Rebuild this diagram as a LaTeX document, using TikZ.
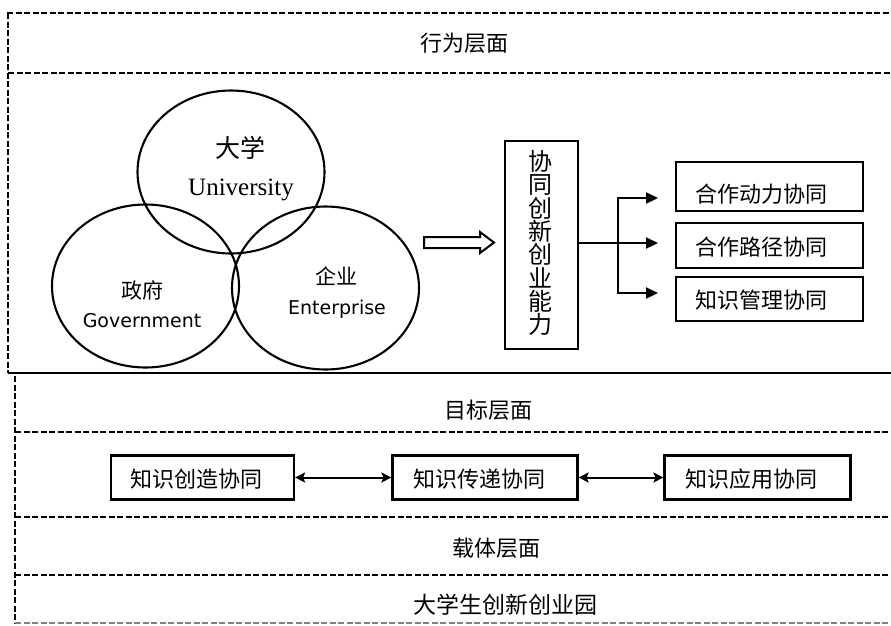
\documentclass[tikz,border=0pt]{standalone}
\usepackage{fontspec}
\setmainfont{Liberation Serif}
\newfontfamily\cjk{Noto Sans CJK SC}
\newfontfamily\latsans{DejaVu Sans}
\usetikzlibrary{arrows.meta,shapes.geometric}
\begin{document}
\begin{tikzpicture}[x=1pt,y=-1pt,
  dsh/.style={line width=1.9pt, dash pattern=on 6pt off 2.5pt},
  txt/.style={inner sep=0pt, font=\cjk\fontsize{22}{24}\selectfont},
  stxt/.style={inner sep=0pt, font=\cjk\fontsize{21}{24}\selectfont},
  ltxt/.style={inner sep=0pt, font=\latsans\fontsize{19}{22}\selectfont},
  boxr/.style={draw, line width=2.2pt, inner sep=0pt},
  ring/.style={draw, ellipse, line width=2.1pt, inner sep=0pt, minimum width=187pt, minimum height=163pt},
  brarrow/.style={line width=2.2pt, -{Triangle[length=12pt,width=11pt]}},
  dblarrow/.style={line width=2pt, {Stealth[length=10pt,width=10pt,inset=2pt]}-{Stealth[length=10pt,width=10pt,inset=2pt]}}
]
\useasboundingbox (0,0) rectangle (891,625);

% layer frames
\draw[dsh] (7,13) -- (891,13);
\draw[dsh] (8,13) -- (8,373);
\draw[dsh] (8,73) -- (891,73);
\draw[line width=2.2pt] (8,373) -- (891,373);
\draw[dsh] (15,376) -- (15,623);
\draw[dsh] (15,432) -- (891,432);
\draw[dsh] (15,517) -- (891,517);
\draw[dsh] (15,575) -- (891,575);
\draw[line width=1.2pt, gray, dash pattern=on 6pt off 2.5pt] (15,623) -- (891,623);

% layer labels
\node[txt] (l1) at (464,43) {行为层面};
\node[txt] (l2) at (488,410) {目标层面};
\node[txt] (l3) at (496,548) {载体层面};
\node[txt, font=\cjk\fontsize{23}{24}\selectfont] (l4) at (505,605) {大学生创新创业园};

% Venn circles
\node[ring] (cu) at (231,172) {};
\node[ring] (cg) at (145.5,286) {};
\node[ring] (ce) at (325.5,288) {};
\node[inner sep=0pt, font=\cjk\fontsize{25}{26}\selectfont] (tu1) at (240,147.5) {大学};
\node[inner sep=0pt, anchor=base, font=\fontsize{25}{26}\selectfont] (tu2) at (241,195) {University};
\node[stxt] (tg1) at (142,290) {政府};
\node[ltxt, anchor=base] (tg2) at (142,327) {Government};
\node[stxt] (te1) at (336.5,276) {企业};
\node[ltxt, anchor=base] (te2) at (337,314) {Enterprise};

% hollow arrow
\draw[line width=2pt, line join=miter] (424,237) -- (480,237) -- (480,232) -- (494,242.5) -- (480,253) -- (480,248) -- (424,248) -- cycle;

% capability box
\node[boxr, minimum width=73pt, minimum height=208pt] (cap) at (541.5,245) {};
\node[inner sep=0pt, align=center, font=\cjk\fontsize{24}{23.3}\selectfont] (capt) at (540,243) {协\\同\\创\\新\\创\\业\\能\\力};

% right boxes
\node[boxr, minimum width=187pt, minimum height=49pt] (r1) at (769.5,186.5) {};
\node[boxr, minimum width=187pt, minimum height=45pt] (r2) at (769.5,245.5) {};
\node[boxr, minimum width=187pt, minimum height=44pt] (r3) at (769.5,299) {};
\node[txt] (rt1) at (761,194.5) {合作动力协同};
\node[txt] (rt2) at (761,247) {合作路径协同};
\node[txt] (rt3) at (761,300) {知识管理协同};

\coordinate (br) at (618,243);
\coordinate (e1) at (658,198);
\coordinate (e2) at (658,243);
\coordinate (e3) at (658,293);
\draw[line width=2.6pt] (cap.east |- br) -- (br);
\draw[brarrow] (br) |- (e1);
\draw[brarrow] (br) -- (e2);
\draw[brarrow] (br) |- (e3);

% bottom boxes
\node[boxr, minimum width=183pt, minimum height=44pt] (b1) at (202.5,477.5) {};
\node[boxr, minimum width=185pt, minimum height=44pt] (b2) at (485,477.5) {};
\node[boxr, minimum width=186pt, minimum height=44pt] (b3) at (757.5,477.5) {};
\node[txt] (bt1) at (196,479) {知识创造协同};
\node[txt] (bt2) at (479,479) {知识传递协同};
\node[txt] (bt3) at (751,479) {知识应用协同};
\draw[dblarrow] (b1.east) -- (b2.west);
\draw[dblarrow] (b2.east) -- (b3.west);
\end{tikzpicture}
\end{document}
